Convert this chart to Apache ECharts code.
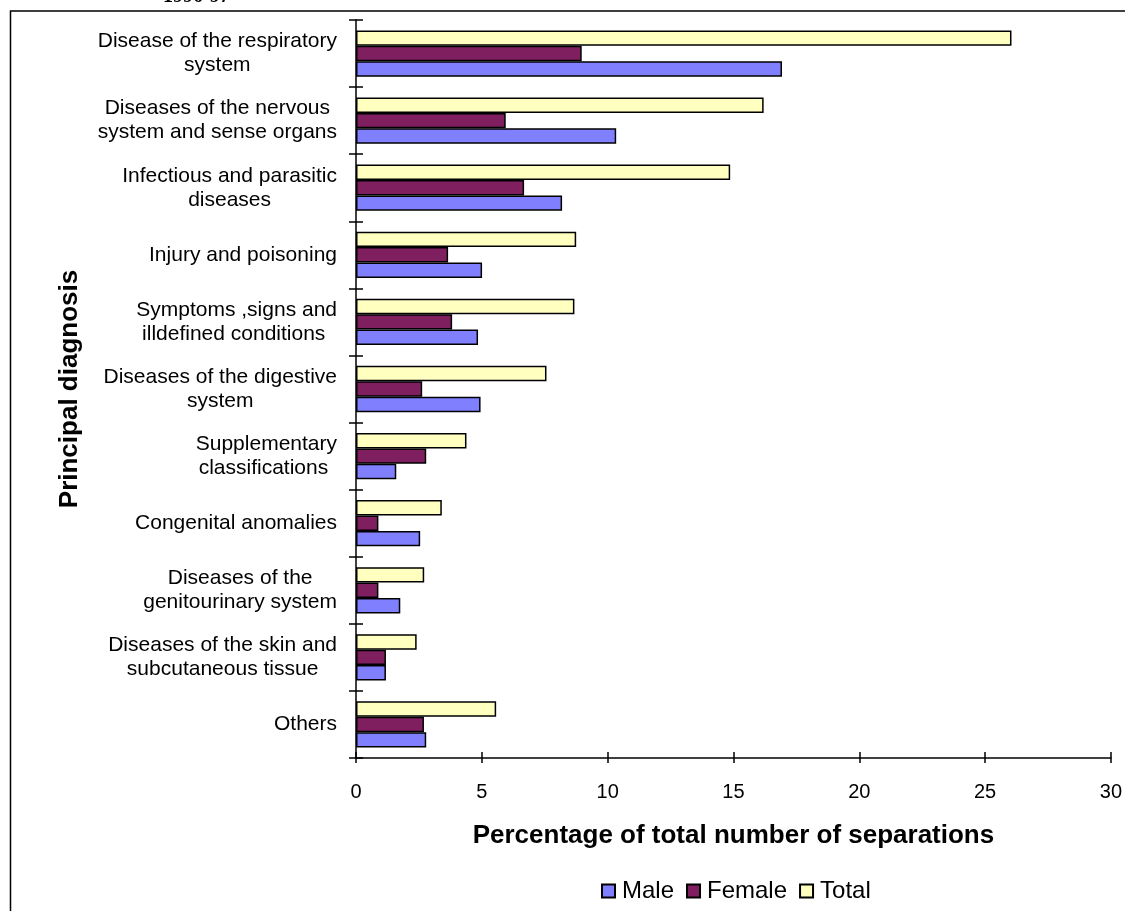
<!DOCTYPE html>
<html>
<head>
<meta charset="utf-8">
<script src="https://cdn.jsdelivr.net/npm/echarts@6/dist/echarts.min.js"></script>
<style>
  html, body { margin: 0; padding: 0; background: #ffffff; }
  #chart { width: 1125px; height: 911px; }
</style>
</head>
<body>
<div id="chart"></div>
<script>
// Principal diagnosis categories, listed top to bottom
const categories = [
  'Disease of the respiratory\nsystem',
  'Diseases of the nervous\nsystem and sense organs',
  'Infectious and parasitic\ndiseases',
  'Injury and poisoning',
  'Symptoms ,signs and\nilldefined conditions ',
  'Diseases of the digestive\nsystem',
  'Supplementary\nclassifications ',
  'Congenital anomalies',
  'Diseases of the\ngenitourinary system',
  'Diseases of the skin and\nsubcutaneous tissue',
  'Others'
];

// Percentage of total number of separations
const totalValues  = [26.05, 16.2, 14.87, 8.75, 8.68, 7.57, 4.39, 3.41, 2.71, 2.41, 5.57];
const femaleValues = [8.97, 5.95, 6.68, 3.66, 3.82, 2.63, 2.79, 0.89, 0.89, 1.19, 2.70];
const maleValues   = [16.93, 10.34, 8.19, 5.01, 4.85, 4.95, 1.60, 2.55, 1.76, 1.19, 2.79];

const legendNames = ['Male', 'Female', 'Total'];
const xTicks = { min: 0, max: 30, interval: 5 };

const FONT = '"Liberation Sans", Arial, sans-serif';

const chart = echarts.init(document.getElementById('chart'), null, { renderer: 'canvas' });

const barStyle = (color) => ({ color: color, borderColor: '#000000', borderWidth: 1.5 });

const option = {
  backgroundColor: '#ffffff',
  animation: false,
  textStyle: { fontFamily: FONT, color: '#000000' },
  graphic: [
    {
      type: 'rect',
      shape: { x: 10.5, y: 11, width: 1200, height: 1000 },
      style: { fill: 'none', stroke: '#000000', lineWidth: 1.5 },
      silent: true
    },
    {
      type: 'text',
      left: 163,
      top: -13,
      style: {
        text: '1996-97',
        font: 'bold 20px "Liberation Serif", "Times New Roman", serif',
        fill: '#000000'
      },
      silent: true
    }
  ],
  grid: { left: 356, right: 13, top: 20, bottom: 153, containLabel: false },
  legend: {
    data: legendNames,
    left: 596,
    top: 874,
    icon: 'rect',
    itemWidth: 13,
    itemHeight: 13,
    itemGap: 12,
    textStyle: { fontFamily: FONT, fontSize: 24, color: '#000000', padding: [0, 0, 0, 2] }
  },
  xAxis: [
    {
      type: 'value',
      min: xTicks.min,
      max: xTicks.max,
      interval: xTicks.interval,
      name: 'Percentage of total number of separations',
      nameLocation: 'middle',
      nameGap: 65,
      nameTextStyle: { fontFamily: FONT, fontSize: 26, fontWeight: 'bold', color: '#000000' },
      axisLine: { show: true, lineStyle: { color: '#000000', width: 1.5 } },
      axisTick: { show: true, inside: false, length: 5, lineStyle: { color: '#000000', width: 1.5 } },
      axisLabel: { fontFamily: FONT, fontSize: 20, color: '#000000', margin: 24 },
      splitLine: { show: false }
    },
    {
      type: 'value',
      min: xTicks.min,
      max: xTicks.max,
      interval: xTicks.interval,
      position: 'bottom',
      axisLine: { show: false },
      axisTick: { show: true, inside: true, length: 6, lineStyle: { color: '#000000', width: 1.5 } },
      axisLabel: { show: false },
      splitLine: { show: false }
    }
  ],
  yAxis: [
    {
      type: 'category',
      data: categories,
      inverse: true,
      name: 'Principal diagnosis',
      nameLocation: 'middle',
      nameGap: 273,
      nameTextStyle: { fontFamily: FONT, fontSize: 26, fontWeight: 'bold', color: '#000000' },
      axisLine: { show: true, lineStyle: { color: '#000000', width: 1.5 } },
      axisTick: { show: true, inside: false, length: 7, lineStyle: { color: '#000000', width: 1.5 } },
      axisLabel: {
        interval: 0,
        margin: 19,
        align: 'right',
        fontFamily: FONT,
        fontSize: 21,
        lineHeight: 24,
        color: '#000000',
        formatter: (value) => value.split('\n').map(line => '{c|' + line + '}').join('\n'),
        rich: {
          c: { align: 'center', fontFamily: FONT, fontSize: 21, lineHeight: 24, color: '#000000' }
        }
      },
      splitLine: { show: false }
    },
    {
      type: 'category',
      data: categories,
      inverse: true,
      position: 'left',
      axisLine: { show: false },
      axisTick: { show: true, inside: true, length: 7, lineStyle: { color: '#000000', width: 1.5 } },
      axisLabel: { show: false },
      splitLine: { show: false }
    }
  ],
  series: [
    {
      name: 'Total', type: 'bar', data: totalValues,
      xAxisIndex: 0, yAxisIndex: 0,
      barGap: '0%', barCategoryGap: '31%',
      itemStyle: barStyle('#ffffc0')
    },
    {
      name: 'Female', type: 'bar', data: femaleValues,
      xAxisIndex: 0, yAxisIndex: 0,
      barGap: '0%', barCategoryGap: '31%',
      itemStyle: barStyle('#801f60')
    },
    {
      name: 'Male', type: 'bar', data: maleValues,
      xAxisIndex: 0, yAxisIndex: 0,
      barGap: '0%', barCategoryGap: '31%',
      itemStyle: barStyle('#8080ff')
    }
  ]
};

chart.setOption(option);
</script>
</body>
</html>
